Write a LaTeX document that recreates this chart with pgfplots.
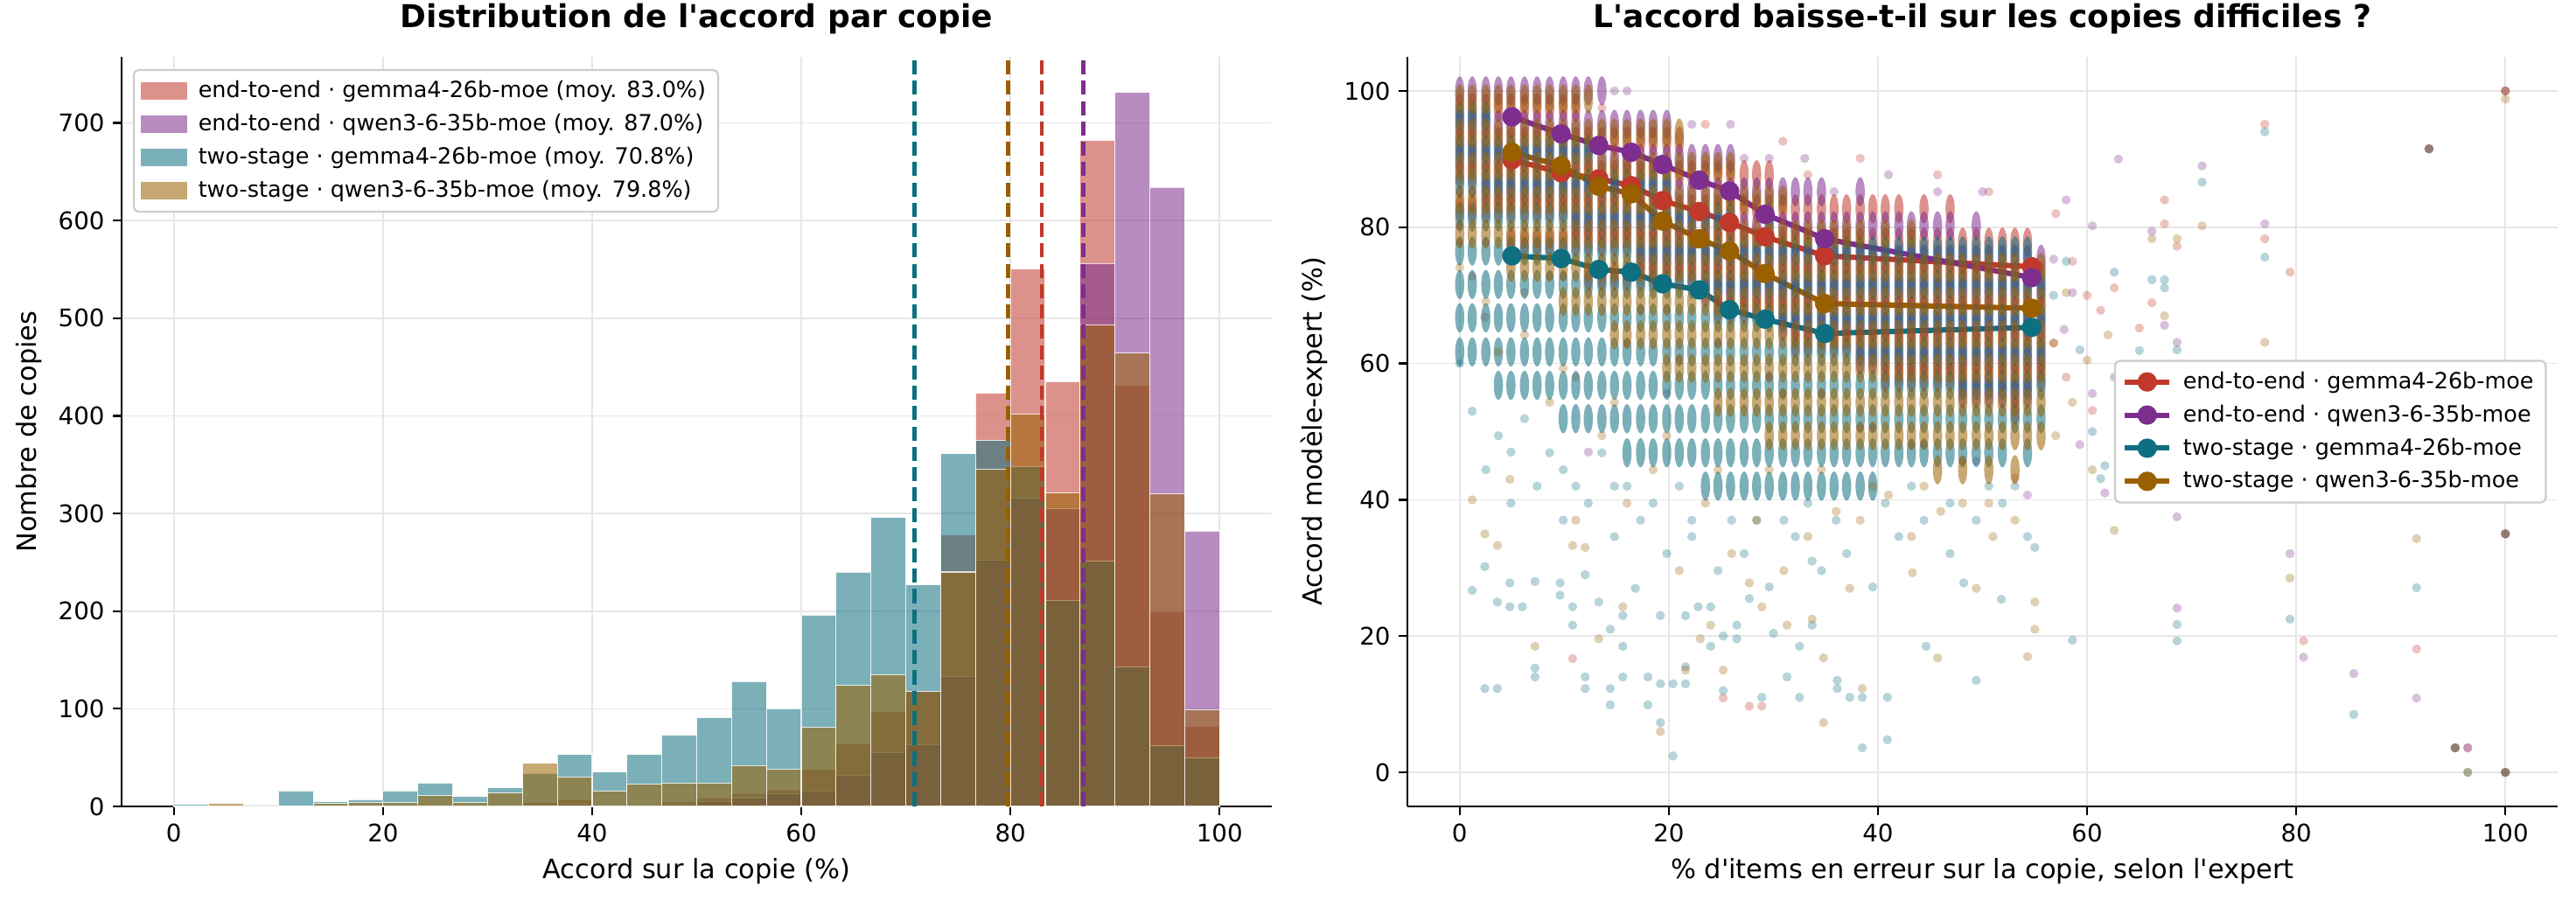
\documentclass[border=0pt]{standalone}
\usepackage{fontspec}
\setmainfont{DejaVu Sans}
\usepackage{pgfplots}
\usepackage{pgfplotstable}
\pgfplotsset{compat=1.18}
\definecolor{cE2EG}{HTML}{C0392B}
\definecolor{cE2EQ}{HTML}{7D2E8E}
\definecolor{cTSG}{HTML}{0E6F80}
\definecolor{cTSQ}{HTML}{9A6000}
\definecolor{gridc}{HTML}{E6E6E6}
\definecolor{legc}{HTML}{CCCCCC}
\newcommand{\q}{\textquotesingle}

\pgfplotstableread{
x e2eg e2eq tsg tsq
0 0 0 2 0
3.333 0 0 1 3
6.667 0 0 2 1
10 0 0 16 0
13.333 0 0 5 3
16.667 1 0 7 4
20 1 0 16 4
23.333 0 0 24 11
26.667 0 0 10 4
30 1 0 19 14
33.333 4 1 34 44
36.667 7 2 53 30
40 1 0 35 16
43.333 2 1 53 23
46.667 5 2 73 24
50 9 5 91 24
53.333 13 9 128 42
56.667 17 13 100 38
60 38 16 196 81
63.333 64 32 240 124
66.667 97 55 296 135
70 118 63 227 118
73.333 278 133 361 240
76.667 423 252 375 345
80 550 316 348 402
83.333 435 305 211 321
86.667 682 556 251 493
90 431 731 143 464
93.333 199 634 62 320
96.667 82 282 50 99
100 0 0 0 0
}\histdata

\pgfplotsset{
  myax/.style={
    scale only axis, width=6.575in, height=4.285in,
    axis x line*=bottom, axis y line*=left,
    axis line style={line width=0.8pt, -},
    tick style={line width=0.8pt, black},
    tick align=outside, major tick length=3.5pt,
    grid=major, grid style={line width=0.6pt, gridc},
    ticklabel style={font=\fontsize{10}{12}\selectfont},
    label style={font=\fontsize{11}{13}\selectfont},
    title style={font=\fontsize{13}{15}\selectfont\bfseries, at={(0.5,1)}, anchor=base, yshift=6pt},
    /pgf/number format/assume math mode=true,
    legend cell align=left,
    legend style={font=\fontsize{9.2}{11}\selectfont, draw=legc, line width=0.8pt, rounded corners=2pt, fill=white,
      inner xsep=3pt, inner ysep=2.5pt, row sep=1.2pt,
      /tikz/every odd column/.append style={column sep=2.5pt}},
  },
  core/.style={only marks, mark=*, mark size=1.9pt, color=#1, mark options={yscale=3.2, fill opacity=0.55, draw opacity=0}, forget plot},
  scat/.style={only marks, mark=*, mark size=1.9pt, color=#1, mark options={fill opacity=0.3, draw opacity=0}, forget plot},
  mline/.style={color=#1, line width=2.2pt, mark=*, mark size=2.9pt, mark options={solid}},
  histleg/.style={legend image code/.code={\fill[#1, sharp corners] (0pt,-3.2pt) rectangle (18.4pt,3.2pt);}},
}

\begin{document}
\begin{tikzpicture}
\useasboundingbox (-0.695in,-0.575in) rectangle (14.03in,4.61in);
\begin{axis}[myax, at={(0,0)}, anchor=south west,
  xmin=-5, xmax=105, ymin=0, ymax=767.6,
  xtick={0,20,...,100}, ytick={0,100,...,700},
  title={Distribution de l\q accord par copie},
  xlabel={Accord sur la copie (\%)}, ylabel={Nombre de copies},
  legend style={at={(0.0097,0.9837)}, anchor=north west}]
\addlegendimage{histleg=cE2EG!55!white}
\addlegendentry{end-to-end · gemma4-26b-moe (moy. 83.0\%)}
\addlegendimage{histleg=cE2EQ!55!white}
\addlegendentry{end-to-end · qwen3-6-35b-moe (moy. 87.0\%)}
\addlegendimage{histleg=cTSG!55!white}
\addlegendentry{two-stage · gemma4-26b-moe (moy. 70.8\%)}
\addlegendimage{histleg=cTSQ!55!white}
\addlegendentry{two-stage · qwen3-6-35b-moe (moy. 79.8\%)}
\addplot[ybar interval, fill=cE2EG, fill opacity=0.55, draw=white, draw opacity=0.8, line width=0.4pt, forget plot] table[x=x, y=e2eg] {\histdata};
\addplot[ybar interval, fill=cE2EQ, fill opacity=0.55, draw=white, draw opacity=0.8, line width=0.4pt, forget plot] table[x=x, y=e2eq] {\histdata};
\addplot[ybar interval, fill=cTSG, fill opacity=0.55, draw=white, draw opacity=0.8, line width=0.4pt, forget plot] table[x=x, y=tsg] {\histdata};
\addplot[ybar interval, fill=cTSQ, fill opacity=0.55, draw=white, draw opacity=0.8, line width=0.4pt, forget plot] table[x=x, y=tsq] {\histdata};
\addplot[cE2EG, line width=1.7pt, dash pattern=on 5.8pt off 2.6pt, forget plot] coordinates {(83.0,0) (83.0,767.6)};
\addplot[cE2EQ, line width=1.7pt, dash pattern=on 5.8pt off 2.6pt, forget plot] coordinates {(87.0,0) (87.0,767.6)};
\addplot[cTSG, line width=1.7pt, dash pattern=on 5.8pt off 2.6pt, forget plot] coordinates {(70.8,0) (70.8,767.6)};
\addplot[cTSQ, line width=1.7pt, dash pattern=on 5.8pt off 2.6pt, forget plot] coordinates {(79.8,0) (79.8,767.6)};
\end{axis}

\begin{axis}[myax, at={(7.35in,0)}, anchor=south west,
  xmin=-5, xmax=105, ymin=-5, ymax=105,
  xtick={0,20,...,100}, ytick={0,20,...,100},
  title={L\q accord baisse-t-il sur les copies difficiles ?},
  xlabel={\% d\q items en erreur sur la copie, selon l\q expert},
  ylabel={Accord modèle-expert (\%)},
  legend image code/.code={\draw[mark repeat=2,mark phase=2,#1] plot coordinates {(0pt,0pt) (9.2pt,0pt) (18.4pt,0pt)};},
  legend style={at={(0.9905,0.5)}, anchor=east}]
% ---------- end-to-end gemma ----------
\addplot[core=cE2EG] coordinates {
(0,97.5)(0,92.6)(0,87.7)(0,82.7)(1.2,97.5)(1.2,92.6)(1.2,87.7)(1.2,82.7)
(2.5,97.5)(2.5,92.6)(2.5,87.7)(2.5,82.7)(3.7,97.5)(3.7,92.6)(3.7,87.7)(3.7,82.7)
(4.9,97.5)(4.9,92.6)(4.9,87.7)(4.9,82.7)(4.9,77.8)(6.2,97.5)(6.2,92.6)(6.2,87.7)(6.2,82.7)(6.2,77.8)
(7.4,97.5)(7.4,92.6)(7.4,87.7)(7.4,82.7)(7.4,77.8)(8.6,97.5)(8.6,92.6)(8.6,87.7)(8.6,82.7)(8.6,77.8)
(9.9,97.5)(9.9,92.6)(9.9,87.7)(9.9,82.7)(9.9,77.8)(11.1,97.5)(11.1,92.6)(11.1,87.7)(11.1,82.7)(11.1,77.8)
(12.3,92.6)(12.3,87.7)(12.3,82.7)(12.3,77.8)(12.3,72.8)(13.6,92.6)(13.6,87.7)(13.6,82.7)(13.6,77.8)(13.6,72.8)
(14.8,92.6)(14.8,87.7)(14.8,82.7)(14.8,77.8)(14.8,72.8)(16,92.6)(16,87.7)(16,82.7)(16,77.8)(16,72.8)
(17.3,92.6)(17.3,87.7)(17.3,82.7)(17.3,77.8)(17.3,72.8)(18.5,92.6)(18.5,87.7)(18.5,82.7)(18.5,77.8)(18.5,72.8)
(19.8,92.6)(19.8,87.7)(19.8,82.7)(19.8,77.8)(19.8,72.8)(21,92.6)(21,87.7)(21,82.7)(21,77.8)(21,72.8)
(22.2,87.7)(22.2,82.7)(22.2,77.8)(22.2,72.8)(23.5,87.7)(23.5,82.7)(23.5,77.8)(23.5,72.8)
(24.7,87.7)(24.7,82.7)(24.7,77.8)(24.7,72.8)(24.7,67.9)(25.9,87.7)(25.9,82.7)(25.9,77.8)(25.9,72.8)(25.9,67.9)
(27.2,87.7)(27.2,82.7)(27.2,77.8)(27.2,72.8)(27.2,67.9)(28.4,87.7)(28.4,82.7)(28.4,77.8)(28.4,72.8)(28.4,67.9)
(29.6,87.7)(29.6,82.7)(29.6,77.8)(29.6,72.8)(29.6,67.9)(30.9,82.7)(30.9,77.8)(30.9,72.8)(30.9,67.9)
(32.1,82.7)(32.1,77.8)(32.1,72.8)(32.1,67.9)(32.1,63)(33.3,82.7)(33.3,77.8)(33.3,72.8)(33.3,67.9)(33.3,63)
(34.6,82.7)(34.6,77.8)(34.6,72.8)(34.6,67.9)(34.6,63)(35.8,82.7)(35.8,77.8)(35.8,72.8)(35.8,67.9)(35.8,63)
(37,82.7)(37,77.8)(37,72.8)(37,67.9)(37,63)(38.3,82.7)(38.3,77.8)(38.3,72.8)(38.3,67.9)(38.3,63)
(39.5,82.7)(39.5,77.8)(39.5,72.8)(39.5,67.9)(39.5,63)(40.7,82.7)(40.7,77.8)(40.7,72.8)(40.7,67.9)(40.7,63)(40.7,58)
(42,82.7)(42,77.8)(42,72.8)(42,67.9)(42,63)(42,58)(43.2,77.8)(43.2,72.8)(43.2,67.9)(43.2,63)(43.2,58)
(44.4,82.7)(44.4,77.8)(44.4,72.8)(44.4,67.9)(44.4,63)(44.4,58)(45.7,77.8)(45.7,72.8)(45.7,67.9)(45.7,63)(45.7,58)
(46.9,82.7)(46.9,77.8)(46.9,72.8)(46.9,67.9)(46.9,63)(46.9,58)(48.1,77.8)(48.1,72.8)(48.1,67.9)(48.1,63)(48.1,58)
(49.4,77.8)(49.4,72.8)(49.4,67.9)(49.4,63)(49.4,58)(50.6,77.8)(50.6,72.8)(50.6,67.9)(50.6,63)(50.6,58)
(51.9,77.8)(51.9,72.8)(51.9,67.9)(51.9,63)(51.9,58)(53.1,77.8)(53.1,72.8)(53.1,67.9)(53.1,63)(53.1,58)(53.1,53.1)
(54.3,77.8)(54.3,72.8)(54.3,67.9)(54.3,63)(54.3,58)(55.6,72.8)(55.6,67.9)(55.6,63)(55.6,58)
};
\addplot[scat=cE2EG] coordinates {
(0,77.8)(1.2,72.8)(2.4,66.8)(6.2,70.4)(10.8,16.7)(11.1,58)(16,63)(21,60.5)(25.2,10.9)(27.7,9.7)(28.9,9.7)
(30.9,55.6)(38.3,50.6)(43.2,48.1)(48.1,45.7)(53.1,43.2)(23.5,95.1)(30.9,92.6)(38.3,90.1)(45.7,87.7)(50.6,85.2)
(57,82)(58.6,75)(60,70)(61.3,67.8)(62.6,71.1)(65,65.2)(66.2,68.9)(67.4,84)(67.4,80.5)(68.6,77.2)(77,78.3)(77,95.1)
(79.4,73.4)(80.7,19.3)(91.5,18.1)(92.7,91.5)(95.2,3.6)(96.4,3.6)(100,100)(100,35)(100,0)(13.6,97.5)(33.3,87.7)
(56.8,63)(58,58)(60.5,53.1)(8.6,72.8)(19.8,67.9)
};
% ---------- end-to-end qwen ----------
\addplot[core=cE2EQ] coordinates {
(0,100)(0,95.1)(0,90.1)(1.2,100)(1.2,95.1)(1.2,90.1)
(2.5,100)(2.5,95.1)(2.5,90.1)(2.5,85.2)(3.7,100)(3.7,95.1)(3.7,90.1)(3.7,85.2)
(4.9,100)(4.9,95.1)(4.9,90.1)(4.9,85.2)(6.2,100)(6.2,95.1)(6.2,90.1)(6.2,85.2)
(7.4,100)(7.4,95.1)(7.4,90.1)(7.4,85.2)(8.6,100)(8.6,95.1)(8.6,90.1)(8.6,85.2)
(9.9,100)(9.9,95.1)(9.9,90.1)(9.9,85.2)(11.1,100)(11.1,95.1)(11.1,90.1)(11.1,85.2)(11.1,80.2)
(12.3,100)(12.3,95.1)(12.3,90.1)(12.3,85.2)(12.3,80.2)(13.6,100)(13.6,95.1)(13.6,90.1)(13.6,85.2)(13.6,80.2)
(14.8,95.1)(14.8,90.1)(14.8,85.2)(14.8,80.2)(16,95.1)(16,90.1)(16,85.2)(16,80.2)
(17.3,95.1)(17.3,90.1)(17.3,85.2)(17.3,80.2)(17.3,75.3)(18.5,95.1)(18.5,90.1)(18.5,85.2)(18.5,80.2)(18.5,75.3)
(19.8,95.1)(19.8,90.1)(19.8,85.2)(19.8,80.2)(19.8,75.3)(21,90.1)(21,85.2)(21,80.2)(21,75.3)
(22.2,90.1)(22.2,85.2)(22.2,80.2)(22.2,75.3)(23.5,90.1)(23.5,85.2)(23.5,80.2)(23.5,75.3)(23.5,70.4)
(24.7,90.1)(24.7,85.2)(24.7,80.2)(24.7,75.3)(24.7,70.4)(25.9,90.1)(25.9,85.2)(25.9,80.2)(25.9,75.3)(25.9,70.4)
(27.2,85.2)(27.2,80.2)(27.2,75.3)(27.2,70.4)(28.4,85.2)(28.4,80.2)(28.4,75.3)(28.4,70.4)
(29.6,85.2)(29.6,80.2)(29.6,75.3)(29.6,70.4)(30.9,85.2)(30.9,80.2)(30.9,75.3)(30.9,70.4)(30.9,65.4)
(32.1,85.2)(32.1,80.2)(32.1,75.3)(32.1,70.4)(32.1,65.4)(33.3,85.2)(33.3,80.2)(33.3,75.3)(33.3,70.4)(33.3,65.4)
(34.6,85.2)(34.6,80.2)(34.6,75.3)(34.6,70.4)(34.6,65.4)(35.8,80.2)(35.8,75.3)(35.8,70.4)(35.8,65.4)
(37,80.2)(37,75.3)(37,70.4)(37,65.4)(38.3,85.2)(38.3,80.2)(38.3,75.3)(38.3,70.4)(38.3,65.4)(38.3,60.5)
(39.5,80.2)(39.5,75.3)(39.5,70.4)(39.5,65.4)(39.5,60.5)(40.7,80.2)(40.7,75.3)(40.7,70.4)(40.7,65.4)(40.7,60.5)
(42,80.2)(42,75.3)(42,70.4)(42,65.4)(42,60.5)(43.2,80.2)(43.2,75.3)(43.2,70.4)(43.2,65.4)(43.2,60.5)
(44.4,80.2)(44.4,75.3)(44.4,70.4)(44.4,65.4)(44.4,60.5)(45.7,80.2)(45.7,75.3)(45.7,70.4)(45.7,65.4)(45.7,60.5)
(46.9,80.2)(46.9,75.3)(46.9,70.4)(46.9,65.4)(46.9,60.5)(48.1,75.3)(48.1,70.4)(48.1,65.4)(48.1,60.5)(48.1,55.6)
(49.4,80.2)(49.4,75.3)(49.4,70.4)(49.4,65.4)(49.4,60.5)(49.4,55.6)(50.6,75.3)(50.6,70.4)(50.6,65.4)(50.6,60.5)(50.6,55.6)
(51.9,75.3)(51.9,70.4)(51.9,65.4)(51.9,60.5)(51.9,55.6)(53.1,75.3)(53.1,70.4)(53.1,65.4)(53.1,60.5)(53.1,55.6)
(54.3,75.3)(54.3,70.4)(54.3,65.4)(54.3,60.5)(54.3,55.6)(55.6,75.3)(55.6,70.4)(55.6,65.4)(55.6,60.5)
};
\addplot[scat=cE2EQ] coordinates {
(27.2,90.1)(29.6,90.1)(33,90.1)(35.8,85.2)(41,87.7)(45.7,85.2)(50,85.2)(2.5,77.8)(9.9,72.8)(17.3,67.9)
(24.7,63)(29.6,58)(34.6,55.6)(39.5,50.6)(44.4,48.1)(49.4,45.7)(54.3,40.7)(12.3,47)(19.8,55.6)(56.8,75.3)
(58,84)(57.8,65)(60.5,55.6)(61.7,41)(63,90)(66.2,79.4)(67.4,65.6)(68.6,63.1)(68.6,37.5)(68.6,24.1)(71,89)
(77,80.5)(79.4,32.1)(80.7,16.9)(85.5,14.5)(91.5,10.9)(92.7,91.5)(95.2,3.6)(96.4,3.6)(100,100)(100,35)(100,0)
(0,85.2)(0,80.2)(1.2,85.2)(14.8,100)(16,100)(22.2,95.1)(25.9,95.1)(58.6,70.4)(60.5,80.2)(62.6,58)(59.3,48.1)
};
% ---------- two-stage gemma ----------
\addplot[core=cTSG] coordinates {
(0,96.3)(0,91.4)(0,86.4)(0,81.5)(0,76.5)(0,71.6)(0,66.7)(0,61.7)
(1.2,96.3)(1.2,91.4)(1.2,86.4)(1.2,81.5)(1.2,76.5)(1.2,71.6)(1.2,66.7)(1.2,61.7)
(2.5,96.3)(2.5,91.4)(2.5,86.4)(2.5,81.5)(2.5,76.5)(2.5,71.6)(2.5,66.7)(2.5,61.7)
(3.7,91.4)(3.7,86.4)(3.7,81.5)(3.7,76.5)(3.7,71.6)(3.7,66.7)(3.7,61.7)(3.7,56.8)
(4.9,91.4)(4.9,86.4)(4.9,81.5)(4.9,76.5)(4.9,71.6)(4.9,66.7)(4.9,61.7)(4.9,56.8)
(6.2,91.4)(6.2,86.4)(6.2,81.5)(6.2,76.5)(6.2,71.6)(6.2,66.7)(6.2,61.7)(6.2,56.8)
(7.4,91.4)(7.4,86.4)(7.4,81.5)(7.4,76.5)(7.4,71.6)(7.4,66.7)(7.4,61.7)(7.4,56.8)
(8.6,91.4)(8.6,86.4)(8.6,81.5)(8.6,76.5)(8.6,71.6)(8.6,66.7)(8.6,61.7)(8.6,56.8)
(9.9,91.4)(9.9,86.4)(9.9,81.5)(9.9,76.5)(9.9,71.6)(9.9,66.7)(9.9,61.7)(9.9,56.8)(9.9,51.9)
(11.1,91.4)(11.1,86.4)(11.1,81.5)(11.1,76.5)(11.1,71.6)(11.1,66.7)(11.1,61.7)(11.1,56.8)(11.1,51.9)
(12.3,91.4)(12.3,86.4)(12.3,81.5)(12.3,76.5)(12.3,71.6)(12.3,66.7)(12.3,61.7)(12.3,56.8)(12.3,51.9)
(13.6,86.4)(13.6,81.5)(13.6,76.5)(13.6,71.6)(13.6,66.7)(13.6,61.7)(13.6,56.8)(13.6,51.9)
(14.8,86.4)(14.8,81.5)(14.8,76.5)(14.8,71.6)(14.8,66.7)(14.8,61.7)(14.8,56.8)(14.8,51.9)
(16,86.4)(16,81.5)(16,76.5)(16,71.6)(16,66.7)(16,61.7)(16,56.8)(16,51.9)(16,46.9)
(17.3,86.4)(17.3,81.5)(17.3,76.5)(17.3,71.6)(17.3,66.7)(17.3,61.7)(17.3,56.8)(17.3,51.9)(17.3,46.9)
(18.5,86.4)(18.5,81.5)(18.5,76.5)(18.5,71.6)(18.5,66.7)(18.5,61.7)(18.5,56.8)(18.5,51.9)(18.5,46.9)
(19.8,86.4)(19.8,81.5)(19.8,76.5)(19.8,71.6)(19.8,66.7)(19.8,61.7)(19.8,56.8)(19.8,51.9)(19.8,46.9)
(21,81.5)(21,76.5)(21,71.6)(21,66.7)(21,61.7)(21,56.8)(21,51.9)(21,46.9)
(22.2,81.5)(22.2,76.5)(22.2,71.6)(22.2,66.7)(22.2,61.7)(22.2,56.8)(22.2,51.9)(22.2,46.9)
(23.5,81.5)(23.5,76.5)(23.5,71.6)(23.5,66.7)(23.5,61.7)(23.5,56.8)(23.5,51.9)(23.5,46.9)(23.5,42)
(24.7,81.5)(24.7,76.5)(24.7,71.6)(24.7,66.7)(24.7,61.7)(24.7,56.8)(24.7,51.9)(24.7,46.9)(24.7,42)
(25.9,81.5)(25.9,76.5)(25.9,71.6)(25.9,66.7)(25.9,61.7)(25.9,56.8)(25.9,51.9)(25.9,46.9)(25.9,42)
(27.2,76.5)(27.2,71.6)(27.2,66.7)(27.2,61.7)(27.2,56.8)(27.2,51.9)(27.2,46.9)(27.2,42)
(28.4,76.5)(28.4,71.6)(28.4,66.7)(28.4,61.7)(28.4,56.8)(28.4,51.9)(28.4,46.9)(28.4,42)
(29.6,81.5)(29.6,76.5)(29.6,71.6)(29.6,66.7)(29.6,61.7)(29.6,56.8)(29.6,51.9)(29.6,46.9)(29.6,42)
(30.9,76.5)(30.9,71.6)(30.9,66.7)(30.9,61.7)(30.9,56.8)(30.9,51.9)(30.9,46.9)(30.9,42)
(32.1,76.5)(32.1,71.6)(32.1,66.7)(32.1,61.7)(32.1,56.8)(32.1,51.9)(32.1,46.9)(32.1,42)
(33.3,76.5)(33.3,71.6)(33.3,66.7)(33.3,61.7)(33.3,56.8)(33.3,51.9)(33.3,46.9)(33.3,42)
(34.6,76.5)(34.6,71.6)(34.6,66.7)(34.6,61.7)(34.6,56.8)(34.6,51.9)(34.6,46.9)(34.6,42)
(35.8,76.5)(35.8,71.6)(35.8,66.7)(35.8,61.7)(35.8,56.8)(35.8,51.9)(35.8,46.9)(35.8,42)
(37,76.5)(37,71.6)(37,66.7)(37,61.7)(37,56.8)(37,51.9)(37,46.9)(37,42)
(38.3,76.5)(38.3,71.6)(38.3,66.7)(38.3,61.7)(38.3,56.8)(38.3,51.9)(38.3,46.9)(38.3,42)
(39.5,76.5)(39.5,71.6)(39.5,66.7)(39.5,61.7)(39.5,56.8)(39.5,51.9)(39.5,46.9)(39.5,42)
(40.7,76.5)(40.7,71.6)(40.7,66.7)(40.7,61.7)(40.7,56.8)(40.7,51.9)(40.7,46.9)
(42,76.5)(42,71.6)(42,66.7)(42,61.7)(42,56.8)(42,51.9)(42,46.9)
(43.2,76.5)(43.2,71.6)(43.2,66.7)(43.2,61.7)(43.2,56.8)(43.2,51.9)(43.2,46.9)
(44.4,76.5)(44.4,71.6)(44.4,66.7)(44.4,61.7)(44.4,56.8)(44.4,51.9)(44.4,46.9)
(45.7,76.5)(45.7,71.6)(45.7,66.7)(45.7,61.7)(45.7,56.8)(45.7,51.9)(45.7,46.9)
(46.9,76.5)(46.9,71.6)(46.9,66.7)(46.9,61.7)(46.9,56.8)(46.9,51.9)(46.9,46.9)
(48.1,76.5)(48.1,71.6)(48.1,66.7)(48.1,61.7)(48.1,56.8)(48.1,51.9)(48.1,46.9)
(49.4,76.5)(49.4,71.6)(49.4,66.7)(49.4,61.7)(49.4,56.8)(49.4,51.9)(49.4,46.9)
(50.6,76.5)(50.6,71.6)(50.6,66.7)(50.6,61.7)(50.6,56.8)(50.6,51.9)(50.6,46.9)
(51.9,76.5)(51.9,71.6)(51.9,66.7)(51.9,61.7)(51.9,56.8)(51.9,51.9)(51.9,46.9)
(53.1,76.5)(53.1,71.6)(53.1,66.7)(53.1,61.7)(53.1,56.8)(53.1,51.9)
(54.3,76.5)(54.3,71.6)(54.3,66.7)(54.3,61.7)(54.3,56.8)(54.3,51.9)(54.3,46.9)
(55.6,71.6)(55.6,66.7)(55.6,61.7)(55.6,56.8)(55.6,51.9)
};
\addplot[scat=cTSG] coordinates {
(1.2,26.7)(2.4,12.3)(3.6,12.3)(2.4,30.2)(3.6,25)(4.8,24.3)(4.8,27.8)(6,24.3)(7.2,28)(7.2,15.3)(7.2,14)(9.6,27.8)(9.6,26)
(10.8,21.6)(10.8,24.3)(12,29)(12,14)(12,12.3)(13.3,25)(14.4,21)(14.4,12.3)(14.4,9.9)(15.6,18.5)(15.6,14)(15.6,23)(16.8,27)
(18,14)(18,9.9)(19.2,7.3)(19.2,23)(19.2,13)(20.4,2.4)(20.4,13)(21.6,13)(21.6,15.5)(21.6,23)(22.8,24.3)(24,18.5)(24,24.3)
(25.2,12)(25.2,20)(26.5,19.6)(26.5,21.6)(27.7,25.5)(28.9,11)(30,20.4)(31.3,14)(32.5,11)(32.5,18.5)(33.7,21.6)(33.7,31)
(36.1,12.3)(36.1,13.5)(37.3,11)(38.5,11)(38.5,3.6)(40.9,4.8)(40.9,11)(44.6,18.5)(49.4,13.5)(48.2,27.8)(51.8,25.4)(55,33)(58.6,19.4)
(2.5,44.4)(4.9,39.5)(7.4,42)(9.9,37)(12.3,39.5)(14.8,34.6)(17.3,37)(19.8,32.1)(22.2,34.6)(24.7,29.6)(27.2,32.1)(29.6,27.2)
(32.1,34.6)(34.6,29.6)(37,32.1)(39.5,27.2)(42,34.6)(44.4,37)(46.9,32.1)(49.4,37)(51.9,39.5)(54.3,34.6)(4.9,47)(9.9,44.4)
(14.8,42)(1.2,53)(3.7,49.4)(6.2,51.9)(8.6,46.9)(11.1,42)(13.6,46.9)(16,42)(18.5,39.5)(21,42)(22.2,37)(26,37)(28.4,37)(31,37)
(33.3,39.5)(36,37)(40.7,39.5)(43.2,42)(46.9,39.5)(50.6,42)(53.1,42)(0,60)(56.8,70)(58,75)(59.3,62)(60.5,50)(61.7,45)
(62.6,73.4)(65,61.9)(66.2,72.3)(67.4,72.3)(67.4,71.1)(68.6,62)(68.6,21.7)(68.6,19.3)(71,86.6)(77,75.6)(77,94)(79.4,22.5)
(85.5,8.5)(91.5,27.1)(61.3,43.1)(92.7,91.5)(95.2,3.6)(96.4,0)(100,35)(100,0)
};
% ---------- two-stage qwen ----------
\addplot[core=cTSQ] coordinates {
(0,98.8)(0,93.8)(0,88.9)(0,84)(0,79)(1.2,98.8)(1.2,93.8)(1.2,88.9)(1.2,84)(1.2,79)
(2.5,98.8)(2.5,93.8)(2.5,88.9)(2.5,84)(2.5,79)(3.7,98.8)(3.7,93.8)(3.7,88.9)(3.7,84)(3.7,79)
(4.9,98.8)(4.9,93.8)(4.9,88.9)(4.9,84)(4.9,79)(4.9,74.1)(6.2,98.8)(6.2,93.8)(6.2,88.9)(6.2,84)(6.2,79)(6.2,74.1)
(7.4,98.8)(7.4,93.8)(7.4,88.9)(7.4,84)(7.4,79)(7.4,74.1)(8.6,98.8)(8.6,93.8)(8.6,88.9)(8.6,84)(8.6,79)(8.6,74.1)
(9.9,98.8)(9.9,93.8)(9.9,88.9)(9.9,84)(9.9,79)(9.9,74.1)(9.9,69.1)(11.1,98.8)(11.1,93.8)(11.1,88.9)(11.1,84)(11.1,79)(11.1,74.1)(11.1,69.1)
(12.3,98.8)(12.3,93.8)(12.3,88.9)(12.3,84)(12.3,79)(12.3,74.1)(12.3,69.1)(13.6,93.8)(13.6,88.9)(13.6,84)(13.6,79)(13.6,74.1)(13.6,69.1)
(14.8,93.8)(14.8,88.9)(14.8,84)(14.8,79)(14.8,74.1)(14.8,69.1)(14.8,64.2)(16,93.8)(16,88.9)(16,84)(16,79)(16,74.1)(16,69.1)(16,64.2)
(17.3,93.8)(17.3,88.9)(17.3,84)(17.3,79)(17.3,74.1)(17.3,69.1)(17.3,64.2)(18.5,93.8)(18.5,88.9)(18.5,84)(18.5,79)(18.5,74.1)(18.5,69.1)(18.5,64.2)
(19.8,93.8)(19.8,88.9)(19.8,84)(19.8,79)(19.8,74.1)(19.8,69.1)(19.8,64.2)(19.8,59.3)(21,93.8)(21,88.9)(21,84)(21,79)(21,74.1)(21,69.1)(21,64.2)(21,59.3)
(22.2,88.9)(22.2,84)(22.2,79)(22.2,74.1)(22.2,69.1)(22.2,64.2)(22.2,59.3)(23.5,88.9)(23.5,84)(23.5,79)(23.5,74.1)(23.5,69.1)(23.5,64.2)(23.5,59.3)
(24.7,88.9)(24.7,84)(24.7,79)(24.7,74.1)(24.7,69.1)(24.7,64.2)(24.7,59.3)(24.7,54.3)(25.9,88.9)(25.9,84)(25.9,79)(25.9,74.1)(25.9,69.1)(25.9,64.2)(25.9,59.3)(25.9,54.3)
(27.2,84)(27.2,79)(27.2,74.1)(27.2,69.1)(27.2,64.2)(27.2,59.3)(27.2,54.3)(28.4,84)(28.4,79)(28.4,74.1)(28.4,69.1)(28.4,64.2)(28.4,59.3)(28.4,54.3)
(29.6,84)(29.6,79)(29.6,74.1)(29.6,69.1)(29.6,64.2)(29.6,59.3)(29.6,54.3)(29.6,49.4)(30.9,84)(30.9,79)(30.9,74.1)(30.9,69.1)(30.9,64.2)(30.9,59.3)(30.9,54.3)(30.9,49.4)
(32.1,79)(32.1,74.1)(32.1,69.1)(32.1,64.2)(32.1,59.3)(32.1,54.3)(32.1,49.4)(33.3,79)(33.3,74.1)(33.3,69.1)(33.3,64.2)(33.3,59.3)(33.3,54.3)(33.3,49.4)
(34.6,79)(34.6,74.1)(34.6,69.1)(34.6,64.2)(34.6,59.3)(34.6,54.3)(34.6,49.4)(35.8,79)(35.8,74.1)(35.8,69.1)(35.8,64.2)(35.8,59.3)(35.8,54.3)(35.8,49.4)
(37,79)(37,74.1)(37,69.1)(37,64.2)(37,59.3)(37,54.3)(37,49.4)(38.3,79)(38.3,74.1)(38.3,69.1)(38.3,64.2)(38.3,59.3)(38.3,54.3)(38.3,49.4)
(39.5,74.1)(39.5,69.1)(39.5,64.2)(39.5,59.3)(39.5,54.3)(39.5,49.4)(40.7,79)(40.7,74.1)(40.7,69.1)(40.7,64.2)(40.7,59.3)(40.7,54.3)(40.7,49.4)
(42,74.1)(42,69.1)(42,64.2)(42,59.3)(42,54.3)(42,49.4)(43.2,79)(43.2,74.1)(43.2,69.1)(43.2,64.2)(43.2,59.3)(43.2,54.3)(43.2,49.4)
(44.4,74.1)(44.4,69.1)(44.4,64.2)(44.4,59.3)(44.4,54.3)(44.4,49.4)(45.7,74.1)(45.7,69.1)(45.7,64.2)(45.7,59.3)(45.7,54.3)(45.7,49.4)(45.7,44.4)
(46.9,74.1)(46.9,69.1)(46.9,64.2)(46.9,59.3)(46.9,54.3)(46.9,49.4)(48.1,74.1)(48.1,69.1)(48.1,64.2)(48.1,59.3)(48.1,54.3)(48.1,49.4)(48.1,44.4)
(49.4,74.1)(49.4,69.1)(49.4,64.2)(49.4,59.3)(49.4,54.3)(49.4,49.4)(50.6,74.1)(50.6,69.1)(50.6,64.2)(50.6,59.3)(50.6,54.3)(50.6,49.4)(50.6,44.4)
(51.9,74.1)(51.9,69.1)(51.9,64.2)(51.9,59.3)(51.9,54.3)(51.9,49.4)(53.1,74.1)(53.1,69.1)(53.1,64.2)(53.1,59.3)(53.1,54.3)(53.1,49.4)(53.1,44.4)
(54.3,69.1)(54.3,64.2)(54.3,59.3)(54.3,54.3)(54.3,49.4)(55.6,74.1)(55.6,69.1)(55.6,64.2)(55.6,59.3)(55.6,54.3)(55.6,49.4)
};
\addplot[scat=cTSQ] coordinates {
(1.2,40)(2.4,35)(3.6,33.3)(4.8,43)(7.2,18.5)(10.8,33.3)(12,33)(13.3,19.6)(15.6,24.3)(19.2,6)(21.6,15)(23,19.6)(24,21.6)
(25.2,15)(27.7,27.8)(28.9,24.3)(31.3,21.6)(33.7,22.5)(34.8,16.8)(34.8,7.3)(37.3,27)(38.5,12.3)(43.3,29.3)(45.7,16.8)(49.4,27)
(54.3,17)(55,25)(55,21)(3.7,61.7)(8.6,54.3)(13.6,49.4)(18.5,44.4)(23.5,39.5)(28.4,37)(33.3,34.6)(38.3,37)(43.2,34.6)(48.1,39.5)
(53.1,37)(11.1,37)(16,39.5)(21,29.6)(26,32.1)(31,29.6)(36,38.3)(41,40.7)(46,38.3)(51,34.6)(56.8,63)(58,70.4)(60,60.5)(62,64.2)
(62.6,35.5)(66.2,78.3)(67.4,67)(68.6,78.3)(71,80.2)(77,63.1)(79.4,28.5)(91.5,34.3)(92.7,91.5)(95.2,3.6)(96.4,0)(100,100)(100,98.8)
(100,35)(100,0)(0,74.1)(2.5,69.1)(6.2,64.2)(9.9,59.3)(14.8,54.3)(19.8,49.4)(24.7,44.4)(29.6,44.4)(34.6,44.4)(39.5,42)(44.4,42)
(50.6,39.5)(57,49.4)(58.6,54.3)(60.5,44.4)
};
% ---------- binned means ----------
\addplot[mline=cE2EG] coordinates {(5,89.9)(9.7,88.0)(13.3,87.1)(16.4,86.1)(19.4,83.9)(22.9,82.3)(25.8,80.7)(29.2,78.6)(34.9,75.8)(54.7,74.2)};
\addlegendentry{end-to-end · gemma4-26b-moe}
\addplot[mline=cE2EQ] coordinates {(5,96.2)(9.7,93.7)(13.3,92.0)(16.4,91.0)(19.4,89.2)(22.9,86.9)(25.8,85.3)(29.2,81.9)(34.9,78.3)(54.7,72.6)};
\addlegendentry{end-to-end · qwen3-6-35b-moe}
\addplot[mline=cTSG] coordinates {(5,75.8)(9.7,75.4)(13.3,73.8)(16.4,73.4)(19.4,71.7)(22.9,70.8)(25.8,67.9)(29.2,66.5)(34.9,64.4)(54.7,65.3)};
\addlegendentry{two-stage · gemma4-26b-moe}
\addplot[mline=cTSQ] coordinates {(5,91.0)(9.7,89.0)(13.3,86.0)(16.4,84.9)(19.4,80.9)(22.9,78.3)(25.8,76.5)(29.2,73.2)(34.9,68.8)(54.7,68.1)};
\addlegendentry{two-stage · qwen3-6-35b-moe}
\end{axis}
\end{tikzpicture}
\end{document}
